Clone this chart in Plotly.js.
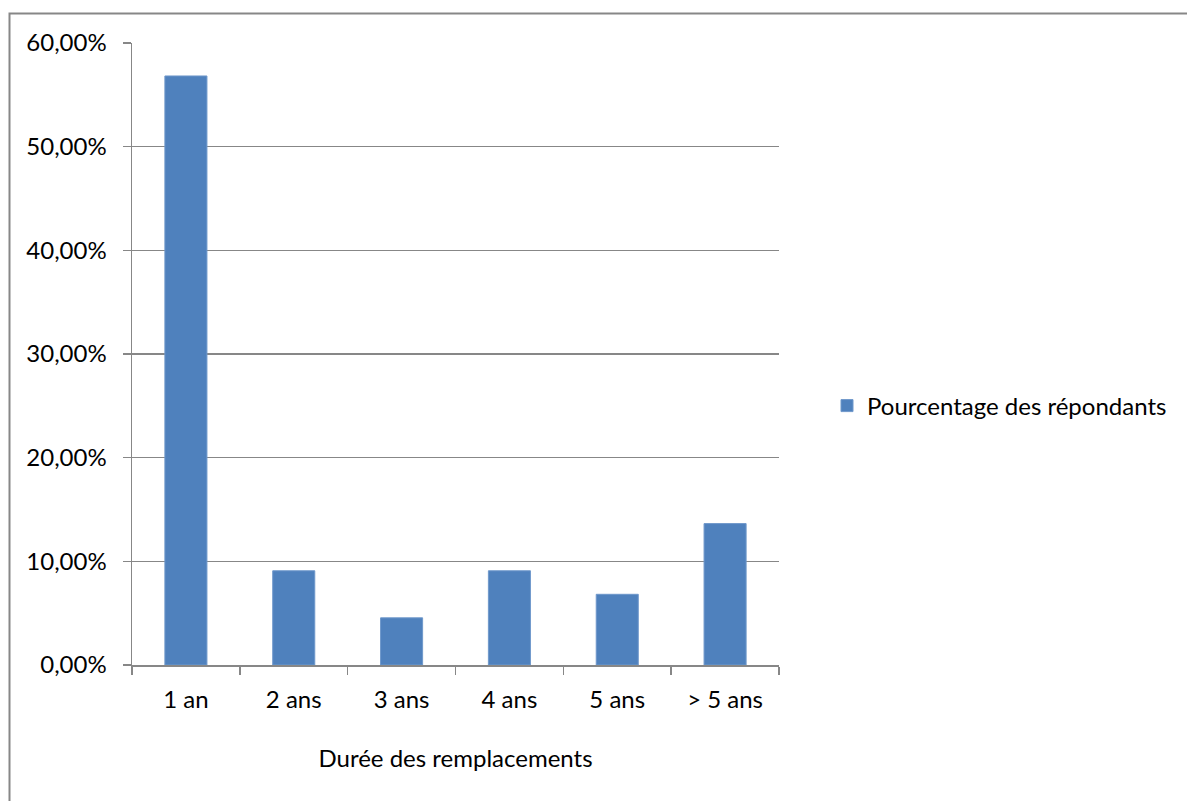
<!DOCTYPE html>
<html>
<head>
<meta charset="utf-8">
<script src="https://cdn.plot.ly/plotly-3.0.1.min.js"></script>
<style>
  html, body { margin: 0; padding: 0; background: #ffffff; }
  #chart { width: 1187px; height: 801px; }
</style>
</head>
<body>
<div id="chart"></div>
<script>
// Durée des remplacements — part des répondants
const categories = ['1 an', '2 ans', '3 ans', '4 ans', '5 ans', '> 5 ans'];
const pourcentages = [0.5682, 0.0909, 0.0455, 0.0909, 0.0682, 0.1364];
const seriesName = 'Pourcentage des répondants';
const axisTitle = 'Durée des remplacements';

const W = 1187, H = 801;
const plotL = 132, plotR = 779, plotT = 43, plotB = 665;
const pw = plotR - plotL, ph = plotB - plotT;
const px = v => (v - plotL) / pw;
const py = v => (plotB - v) / ph;

const grey = '#878787';
const fontFam = 'Lato, "Open Sans", sans-serif';
const fs = 24;

const trace = {
  type: 'bar',
  x: categories,
  y: pourcentages,
  name: seriesName,
  marker: { color: '#4F81BD', line: { color: '#6f98cb', width: 1 } },
  showlegend: true,
  hoverinfo: 'x+y'
};

const layout = {
  width: W, height: H,
  margin: { l: plotL, r: W - plotR, t: plotT, b: H - plotB },
  paper_bgcolor: '#ffffff',
  plot_bgcolor: '#ffffff',
  separators: ', ',
  font: { family: fontFam, size: fs, color: '#000000' },
  bargap: 0.61,
  showlegend: true,
  legend: {
    x: px(827), y: py(406), xanchor: 'left', yanchor: 'middle',
    font: { family: fontFam, size: fs, color: '#000000' },
    bgcolor: 'rgba(0,0,0,0)'
  },
  xaxis: {
    type: 'category',
    showline: true, linecolor: grey, linewidth: 1.5,
    ticks: 'outside', tickson: 'boundaries', ticklen: 8, tickcolor: grey, tickwidth: 1.5,
    ticklabelstandoff: 13,
    showgrid: false, zeroline: false,
    title: { text: axisTitle, font: { family: fontFam, size: fs }, standoff: 38 },
    fixedrange: true
  },
  yaxis: {
    range: [0, 0.6], dtick: 0.1, tick0: 0,
    tickformat: '.2%',
    showline: true, linecolor: grey, linewidth: 1.5,
    ticks: 'outside', ticklen: 8, tickcolor: grey, tickwidth: 1.5,
    ticklabelstandoff: 11,
    showgrid: true, gridcolor: grey, gridwidth: 1.5,
    zeroline: false,
    fixedrange: true
  },
  shapes: [{
    type: 'rect', xref: 'paper', yref: 'paper', layer: 'above',
    x0: px(9.5), x1: px(W + 5), y0: py(H + 5), y1: py(13.5),
    line: { color: '#878787', width: 2 }, fillcolor: 'rgba(0,0,0,0)'
  }]
};

Plotly.newPlot('chart', [trace], layout, { displayModeBar: false, staticPlot: true });
</script>
</body>
</html>
